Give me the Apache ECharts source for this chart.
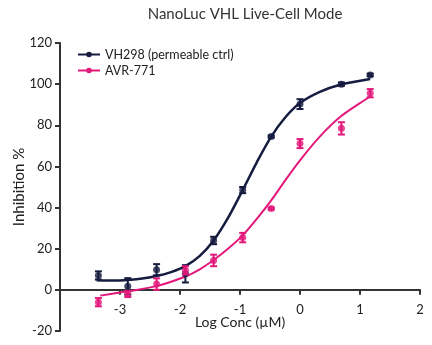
<!DOCTYPE html>
<html>
<head>
<meta charset="utf-8">
<script src="https://cdn.jsdelivr.net/npm/echarts@6/dist/echarts.min.js"></script>
<style>html,body{margin:0;padding:0;background:#fff;}#c{width:432px;height:345px;}</style>
</head>
<body>
<div id="c"></div>
<script>
var titleText = 'NanoLuc VHL Live-Cell Mode';
var xTitle = 'Log Conc (\u00b5M)';
var yTitle = 'Inhibition %';
var seriesNames = ['VH298 (permeable ctrl)', 'AVR-771'];
var xTicks = [-3, -2, -1, 0, 1, 2];
var yTicks = [-20, 0, 20, 40, 60, 80, 100, 120];

var logConc = [-3.36, -2.87, -2.39, -1.91, -1.44, -0.955, -0.48, 0, 0.69, 1.17];
var vhMean = [7, 1.7, 9.8, 7.8, 24, 48.5, 74.5, 90.3, 100, 104.5];
var vhErr  = [2, 4, 2.7, 4.2, 1.8, 1.5, 0.5, 2.4, 0.8, 0.6];
var avrMean = [-6, -2, 2.8, 9.5, 14.3, 25.4, 39.5, 71.1, 78.5, 95.6];
var avrErr  = [2, 1.5, 2.8, 2, 2.8, 2.3, 0.5, 2.2, 3, 2];

var vhCurveX = [-3.39, -3.1, -2.87, -2.6, -2.39, -2.15, -1.91, -1.67, -1.44, -1.2, -0.955, -0.72, -0.48, -0.24, 0, 0.33, 0.667, 1.17];
var vhCurveY = [4.7, 4.5, 4.8, 5.6, 6.7, 8.6, 11.5, 16.5, 24, 35, 48.5, 62, 74.5, 84, 90.8, 96.2, 99.7, 102.5];
var avrCurveX = [-3.33, -2.87, -2.39, -1.91, -1.67, -1.44, -1.2, -0.955, -0.72, -0.48, -0.24, 0, 0.33, 0.667, 1.0, 1.17];
var avrCurveY = [-2.8, -0.7, 1.8, 6.5, 10, 14.5, 20, 26.5, 34.5, 43.5, 53.5, 63, 74.5, 84, 90.8, 94];

var navy = '#161c40';
var pink = '#e2187b';
var axisColor = '#333333';
var font = 'Lato';

var gridTop = 43, gridBottom = 14, chartH = 345;
var yMin = -20, yMax = 120;
var xAxisOffset = -((chartH - gridTop - gridBottom) * (0 - yMin) / (yMax - yMin));

function zip(a, b) { return a.map(function (v, i) { return [v, b[i]]; }); }
function errData(m, e) { return logConc.map(function (x, i) { return [x, m[i] - e[i], m[i] + e[i]]; }); }

function errRender(color) {
  return function (params, api) {
    var x = api.value(0);
    var lo = api.coord([x, api.value(1)]);
    var hi = api.coord([x, api.value(2)]);
    var hw = 3.5;
    var st = { stroke: color, lineWidth: 2 };
    return {
      type: 'group',
      children: [
        { type: 'line', shape: { x1: lo[0], y1: lo[1], x2: hi[0], y2: hi[1] }, style: st },
        { type: 'line', shape: { x1: lo[0] - hw, y1: lo[1], x2: lo[0] + hw, y2: lo[1] }, style: st },
        { type: 'line', shape: { x1: hi[0] - hw, y1: hi[1], x2: hi[0] + hw, y2: hi[1] }, style: st }
      ]
    };
  };
}

var chart = echarts.init(document.getElementById('c'), null, { renderer: 'canvas' });
chart.setOption({
  animation: false,
  backgroundColor: '#ffffff',
  textStyle: { fontFamily: font },
  title: {
    text: titleText, left: 240, top: 2, textAlign: 'center',
    textStyle: { fontFamily: font, fontSize: 15, fontWeight: 'normal', color: '#333333' }
  },
  legend: {
    left: 72, top: 43, orient: 'vertical', itemWidth: 22, itemHeight: 7, itemGap: 3,
    data: seriesNames,
    textStyle: { fontFamily: font, fontSize: 12.5, color: '#222222' }
  },
  grid: { left: 60, right: 12, top: gridTop, bottom: gridBottom, containLabel: false, outerBoundsMode: 'none' },
  xAxis: {
    type: 'value', min: -4, max: 2, interval: 1, offset: xAxisOffset,
    name: xTitle, nameLocation: 'middle', nameGap: 26, nameMoveOverlap: false,
    nameTextStyle: { fontFamily: font, fontSize: 14, color: '#222222' },
    axisLine: { onZero: false, lineStyle: { color: axisColor, width: 2 } },
    axisTick: { show: true, length: 5, lineStyle: { color: axisColor, width: 2 } },
    axisLabel: {
      margin: 13, fontSize: 13, color: '#222222', fontFamily: font,
      formatter: function (v) { return xTicks.indexOf(v) >= 0 ? String(v) : ''; }
    },
    splitLine: { show: false }
  },
  yAxis: {
    type: 'value', min: yMin, max: yMax, interval: 20,
    name: yTitle, nameLocation: 'middle', nameGap: 33, nameRotate: 90, nameMoveOverlap: false,
    nameTextStyle: { fontFamily: font, fontSize: 15, color: '#222222' },
    axisLine: { show: true, onZero: false, lineStyle: { color: axisColor, width: 2 } },
    axisTick: { show: true, length: 5, lineStyle: { color: axisColor, width: 2 } },
    axisLabel: {
      margin: 8, fontSize: 13, color: '#222222', fontFamily: font,
      formatter: function (v) { return yTicks.indexOf(v) >= 0 ? String(v) : ''; }
    },
    splitLine: { show: false }
  },
  series: [
    {
      name: seriesNames[0], type: 'line', data: zip(vhCurveX, vhCurveY), smooth: 0.3,
      symbol: 'circle', symbolSize: 7, showSymbol: false,
      itemStyle: { color: navy }, lineStyle: { color: navy, width: 2.5 }, z: 2
    },
    {
      name: seriesNames[1], type: 'line', data: zip(avrCurveX, avrCurveY), smooth: 0.3,
      symbol: 'circle', symbolSize: 7, showSymbol: false,
      itemStyle: { color: pink }, lineStyle: { color: pink, width: 2 }, z: 2
    },
    {
      name: seriesNames[0], type: 'custom', renderItem: errRender(navy),
      data: errData(vhMean, vhErr), encode: { x: 0, y: [1, 2] }, z: 3
    },
    {
      name: seriesNames[0], type: 'scatter', data: zip(logConc, vhMean),
      symbol: 'circle', symbolSize: 7, itemStyle: { color: navy }, z: 4
    },
    {
      name: seriesNames[1], type: 'custom', renderItem: errRender(pink),
      data: errData(avrMean, avrErr), encode: { x: 0, y: [1, 2] }, z: 5
    },
    {
      name: seriesNames[1], type: 'scatter', data: zip(logConc, avrMean),
      symbol: 'circle', symbolSize: 7, itemStyle: { color: pink }, z: 6
    }
  ]
});
</script>
</body>
</html>
